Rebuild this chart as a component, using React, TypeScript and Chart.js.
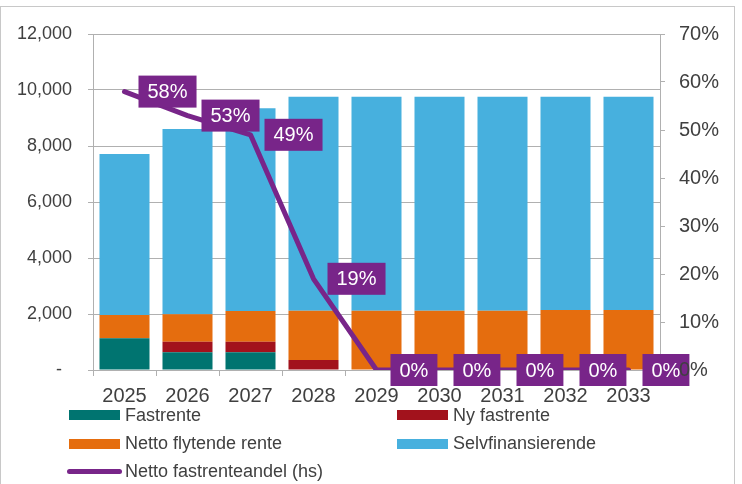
import React, { useEffect, useRef } from "react";
import { Chart, registerables } from "chart.js";

Chart.register(...registerables);

const years = ["2025", "2026", "2027", "2028", "2029", "2030", "2031", "2032", "2033"];
const fastrente = [1130, 630, 630, 0, 0, 0, 0, 0, 0];
const nyFastrente = [0, 380, 380, 360, 0, 0, 0, 0, 0];
const nettoFlytende = [830, 980, 1095, 1760, 2120, 2120, 2120, 2140, 2140];
const selvfinansierende = [5750, 6620, 7240, 7640, 7640, 7640, 7640, 7620, 7620];
const nettoFastrenteandel = [0.58, 0.53, 0.49, 0.19, 0, 0, 0, 0, 0];

const C_TEAL = "#007470";
const C_RED = "#A2121C";
const C_ORANGE = "#E56D0E";
const C_BLUE = "#47B0DE";
const C_PURPLE = "#782589";
const TEXT = "#404040";
const GRID = "#b0b0b0";
const FONT = "'Liberation Sans', Arial, sans-serif";

const labelPlugin = {
  id: "boxLabels",
  afterDatasetsDraw(chart: any) {
    const idx = chart.data.datasets.findIndex((d: any) => d.type === "line");
    if (idx < 0) return;
    const meta = chart.getDatasetMeta(idx);
    const ctx = chart.ctx;
    ctx.save();
    ctx.font = `20px ${FONT}`;
    ctx.textBaseline = "middle";
    ctx.textAlign = "left";
    meta.data.forEach((pt: any, i: number) => {
      const v = chart.data.datasets[idx].data[i];
      const txt = Math.round(v * 100) + "%";
      const w = ctx.measureText(txt).width + 18;
      const h = 32;
      const x = pt.x + 14;
      const y = pt.y - h / 2;
      ctx.fillStyle = C_PURPLE;
      ctx.fillRect(x, y, w, h);
      ctx.fillStyle = "#ffffff";
      ctx.fillText(txt, x + 9, pt.y + 1);
    });
    ctx.restore();
  },
};

export default function App() {
  const ref = useRef<HTMLCanvasElement>(null);

  useEffect(() => {
    if (!ref.current) return;
    const chart = new Chart(ref.current, {
      type: "bar",
      data: {
        labels: years,
        datasets: [
          { type: "bar", label: "Fastrente", data: fastrente, backgroundColor: C_TEAL, yAxisID: "y", order: 1 },
          { type: "bar", label: "Ny fastrente", data: nyFastrente, backgroundColor: C_RED, yAxisID: "y", order: 1 },
          { type: "bar", label: "Netto flytende rente", data: nettoFlytende, backgroundColor: C_ORANGE, yAxisID: "y", order: 1 },
          { type: "bar", label: "Selvfinansierende", data: selvfinansierende, backgroundColor: C_BLUE, yAxisID: "y", order: 1 },
          {
            type: "line",
            label: "Netto fastrenteandel (hs)",
            data: nettoFastrenteandel,
            borderColor: C_PURPLE,
            backgroundColor: C_PURPLE,
            borderWidth: 5,
            borderCapStyle: "round",
            borderJoinStyle: "round",
            pointRadius: 0,
            tension: 0,
            yAxisID: "y1",
            order: 0,
          } as any,
        ],
      },
      options: {
        responsive: false,
        animation: false,
        layout: { padding: { top: 34, left: 0, right: 0, bottom: 74 } },
        plugins: { legend: { display: false }, tooltip: { enabled: false } },
        datasets: { bar: { categoryPercentage: 1, barPercentage: 0.794 } },
        scales: {
          x: {
            stacked: true,
            grid: { offset: true, drawOnChartArea: false, drawTicks: true, tickLength: 6, color: GRID },
            border: { display: true, color: GRID },
            ticks: { color: TEXT, font: { family: FONT, size: 20 }, padding: 8, maxRotation: 0 },
            afterFit: (s: any) => { s.height = 40; },
          },
          y: {
            stacked: true,
            position: "left",
            min: 0,
            max: 12000,
            grid: { color: GRID, tickLength: 5, drawTicks: true },
            border: { display: true, color: GRID },
            ticks: {
              stepSize: 2000,
              color: TEXT,
              font: { family: FONT, size: 18 },
              padding: 16,
              callback: (v: any) => (v === 0 ? "-  " : Number(v).toLocaleString("en-US")),
            },
            afterFit: (s: any) => { s.width = 93; },
          },
          y1: {
            position: "right",
            min: 0,
            max: 0.7,
            grid: { drawOnChartArea: false, color: GRID, tickLength: 5, drawTicks: true },
            border: { display: true, color: GRID },
            ticks: {
              stepSize: 0.1,
              color: TEXT,
              font: { family: FONT, size: 20 },
              padding: 14,
              z: 1,
              callback: (v: any) => Math.round(Number(v) * 100) + "%",
            },
            afterFit: (s: any) => { s.width = 82; },
          },
        },
      },
      plugins: [labelPlugin],
    });
    return () => chart.destroy();
  }, []);

  const legendText: React.CSSProperties = {
    position: "absolute",
    fontFamily: FONT,
    fontSize: 18,
    lineHeight: "20px",
    color: TEXT,
    whiteSpace: "nowrap",
  };
  const sw = (left: number, top: number, color: string): React.CSSProperties => ({
    position: "absolute",
    left,
    top,
    width: 51,
    height: 10,
    background: color,
  });

  return (
    <div style={{ position: "fixed", left: 0, top: 0, width: 742, height: 484, overflow: "hidden", background: "#fff" }}>
      <div
        style={{
          position: "absolute",
          left: 0,
          top: 6,
          width: 735,
          height: 520,
          boxSizing: "border-box",
          border: "1px solid #c8c8c8",
        }}
      />
      <canvas ref={ref} width={742} height={484} style={{ position: "absolute", left: 0, top: 0, width: 742, height: 484 }} />
      <div style={sw(69, 410, C_TEAL)} />
      <div style={{ ...legendText, left: 125, top: 405 }}>Fastrente</div>
      <div style={sw(397, 410, C_RED)} />
      <div style={{ ...legendText, left: 453, top: 405 }}>Ny fastrente</div>
      <div style={sw(69, 439, C_ORANGE)} />
      <div style={{ ...legendText, left: 125, top: 433 }}>Netto flytende rente</div>
      <div style={sw(397, 439, C_BLUE)} />
      <div style={{ ...legendText, left: 453, top: 433 }}>Selvfinansierende</div>
      <div
        style={{
          position: "absolute",
          left: 67,
          top: 469,
          width: 55,
          height: 5,
          borderRadius: 3,
          background: C_PURPLE,
        }}
      />
      <div style={{ ...legendText, left: 125, top: 461 }}>Netto fastrenteandel (hs)</div>
    </div>
  );
}
